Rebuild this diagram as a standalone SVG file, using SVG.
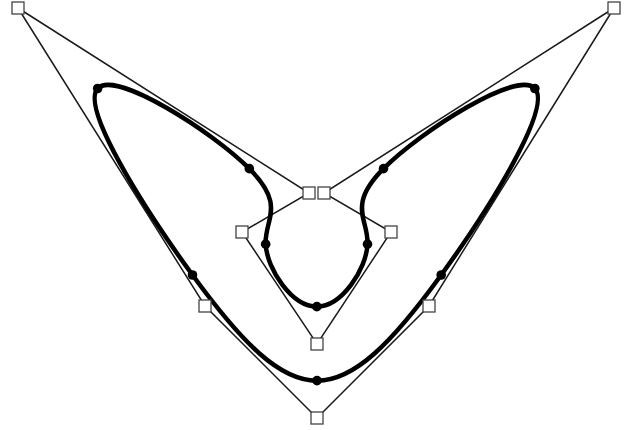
<svg xmlns="http://www.w3.org/2000/svg" width="628" height="430" viewBox="0 0 628 430">
<style>
.poly{fill:none;stroke:#1a1a1a;stroke-width:1.5}
.curve{fill:none;stroke:#000;stroke-width:4.5}
.cp{fill:#fff;stroke:#444;stroke-width:1.3}
.knot{fill:#000}
</style>
<rect width="628" height="430" fill="#fff"/>
<g id="connectors">
<polygon class="poly" points="18,8 309,193 242,232 317,344 391,232 324,193 614,8 429,306 317,418 205,306"/>
<path class="curve" d="M97.67,88.5 C115,69.67 212,131.33 249.33,168.67 C286.67,206 264.33,219 265.67,244.17 C267,269.33 292,306.67 316.83,306.67 C341.67,306.67 366.33,269.33 367.5,244.17 C368.67,219 346.33,206 383.5,168.67 C420.67,131.33 517.33,69.67 534.83,88.5 C552.33,107.33 490.67,206.67 441.17,275 C391.67,343.33 354.33,380.67 317,380.67 C279.67,380.67 242.33,343.33 192.5,275 C142.67,206.67 80.33,107.33 97.67,88.5 Z"/>
</g>
<g id="knots">
<circle class="knot" cx="97.67" cy="88.5" r="4.8"/>
<circle class="knot" cx="249.33" cy="168.67" r="4.8"/>
<circle class="knot" cx="265.67" cy="244.17" r="4.8"/>
<circle class="knot" cx="316.83" cy="306.67" r="4.8"/>
<circle class="knot" cx="367.5" cy="244.17" r="4.8"/>
<circle class="knot" cx="383.5" cy="168.67" r="4.8"/>
<circle class="knot" cx="534.83" cy="88.5" r="4.8"/>
<circle class="knot" cx="441.17" cy="275" r="4.8"/>
<circle class="knot" cx="317" cy="380.67" r="4.8"/>
<circle class="knot" cx="192.5" cy="275" r="4.8"/>
</g>
<g id="control-points">
<rect id="p0" class="cp" x="12" y="2" width="12" height="12"/>
<rect id="p1" class="cp" x="303" y="187" width="12" height="12"/>
<rect id="p2" class="cp" x="236" y="226" width="12" height="12"/>
<rect id="p3" class="cp" x="311" y="338" width="12" height="12"/>
<rect id="p4" class="cp" x="385" y="226" width="12" height="12"/>
<rect id="p5" class="cp" x="318" y="187" width="12" height="12"/>
<rect id="p6" class="cp" x="608" y="2" width="12" height="12"/>
<rect id="p7" class="cp" x="423" y="300" width="12" height="12"/>
<rect id="p8" class="cp" x="311" y="412" width="12" height="12"/>
<rect id="p9" class="cp" x="199" y="300" width="12" height="12"/>
</g>
</svg>
